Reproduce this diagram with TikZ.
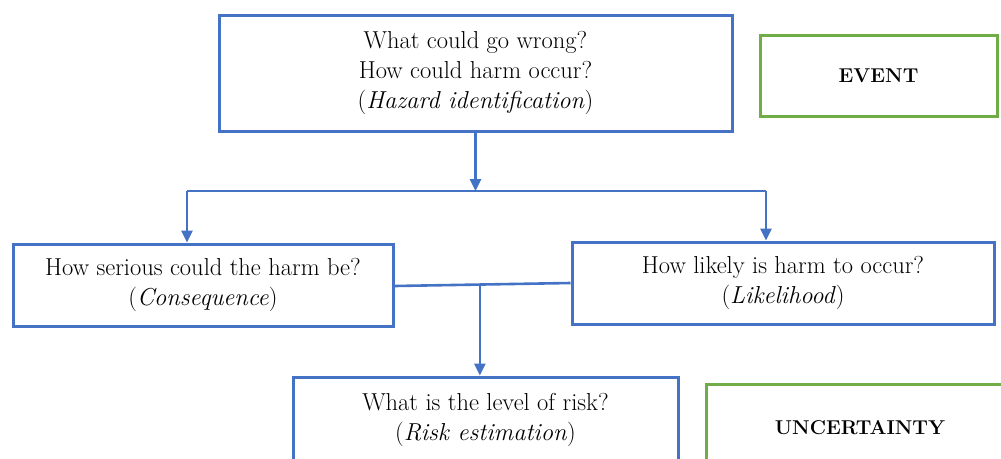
\documentclass[tikz,border=0pt]{standalone}
\usetikzlibrary{arrows.meta,calc}
\definecolor{boxblue}{HTML}{4472C4}
\definecolor{boxgreen}{HTML}{70AD47}
\begin{document}
\begin{tikzpicture}[x=1pt,y=-1pt,
  bbox/.style={draw=boxblue,line width=3pt,align=center,inner sep=0pt,
    font=\fontsize{24.5}{30}\selectfont},
  gbox/.style={draw=boxgreen,line width=3pt,align=center,inner sep=0pt,
    font=\fontsize{20}{30}\selectfont\bfseries},
  conn/.style={draw=boxblue,line width=2.6pt},
  arr/.style={conn,-{Triangle[length=12pt,width=11pt]}}]
\useasboundingbox (0,0) rectangle (1001,458);
\clip (0,0) rectangle (1001,458);
\node[bbox,minimum width=513pt,minimum height=116pt] (top) at (475.5,73)
  {What could go wrong?\\How could harm occur?\\(\textit{Hazard identification})};
\node[gbox,minimum width=237pt,minimum height=81pt] (event) at (878.5,75.5) {EVENT};
\node[bbox,minimum width=380pt,minimum height=82pt] (left) at (203,285)
  {How serious could the harm be?\\(\textit{Consequence})};
\node[bbox,minimum width=422pt,minimum height=82pt] (right) at (783,283)
  {How likely is harm to occur?\\(\textit{Likelihood})};
\node[bbox,minimum width=385pt,minimum height=86pt] (risk) at (485.5,420)
  {What is the level of risk?\\(\textit{Risk estimation})};
\node[gbox,minimum width=308pt,minimum height=88pt] (unc) at (860,428) {UNCERTAINTY};
\coordinate (j) at (475.5,191);
\coordinate (jl) at (187,191);
\coordinate (jr) at (766,191);
\draw[arr] (top.south) -- (j);
\draw[conn] (jl) -- (jr);
\draw[arr] (jl) -- (jl |- left.north);
\draw[arr] (jr) -- (jr |- right.north);
\draw[conn] ($(left.east)+(0,1)$) coordinate (ml) -- (right.west) coordinate (mr);
\coordinate (m) at ($(ml)!0.485!(mr)$);
\draw[arr] (m) -- (m |- risk.north);
\end{tikzpicture}
\end{document}
